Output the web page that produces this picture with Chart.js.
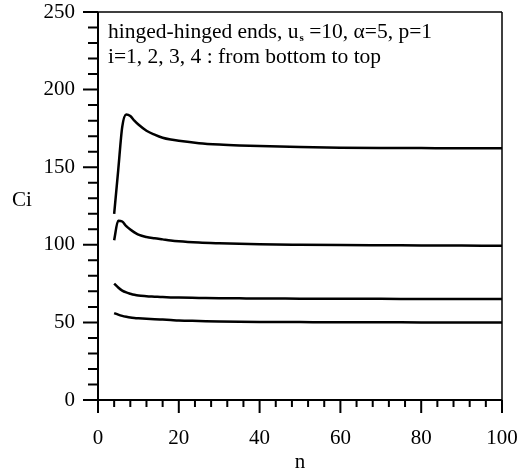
<!DOCTYPE html>
<html>
<head>
<meta charset="utf-8">
<script src="https://cdn.jsdelivr.net/npm/chart.js@4.4.0/dist/chart.umd.min.js"></script>
<style>
  html, body { margin: 0; padding: 0; background: #fff; }
  canvas { display: block; }
</style>
</head>
<body>
<canvas id="chart" width="532" height="473"></canvas>
<script>
// n values (x) and Ci for each mode
const nValues = [4, 5, 6, 7, 8, 9, 10, 12, 14, 16, 18, 20, 25, 30, 35, 40, 50, 60, 70, 80, 90, 100];
const c1 = [56, 55, 54.2, 53.6, 53.1, 52.8, 52.6, 52.3, 52.1, 51.8, 51.5, 51.2, 50.9, 50.6, 50.4, 50.3, 50.2, 50.1, 50.1, 50, 50, 50];
const c2 = [75, 72.5, 70.5, 69.3, 68.5, 67.8, 67.3, 66.9, 66.6, 66.3, 66.1, 66, 65.8, 65.6, 65.5, 65.4, 65.3, 65.2, 65.2, 65.1, 65.1, 65.1];
const c3 = [103, 115.5, 115, 112, 109.8, 108, 106.5, 105, 104.2, 103.5, 102.8, 102.3, 101.5, 101, 100.6, 100.3, 100, 99.8, 99.7, 99.6, 99.5, 99.4];
const c4 = [120, 148, 176, 184, 183, 180, 177.5, 173.5, 171, 169, 167.8, 167, 165.5, 164.6, 164, 163.6, 163, 162.6, 162.4, 162.3, 162.2, 162.2];

const xLabelStep = 20, xMinorStep = 4;
const yLabelStep = 50, yMinorStep = 10;
const noteLines = ['hinged-hinged ends, u', 'i=1, 2, 3, 4 : from bottom to top'];

const FONT = 'Liberation Serif, Times New Roman, serif';

function toPoints(ys) {
    return nValues.map((n, i) => ({ x: n, y: ys[i] }));
}

function lineSet(label, ys) {
    return {
        label: label,
        data: toPoints(ys),
        borderColor: '#000',
        borderWidth: 2.5,
        pointRadius: 0,
        fill: false,
        cubicInterpolationMode: 'monotone'
    };
}

// frame, tick marks, the note and the Ci label
const framePlugin = {
    id: 'frame',
    afterDraw(chart) {
        const ctx = chart.ctx;
        const a = chart.chartArea;
        const xs = chart.scales.x, ys = chart.scales.y;
        ctx.save();
        ctx.strokeStyle = '#000';
        ctx.lineCap = 'butt';

        // top + right border
        ctx.lineWidth = 1.5;
        ctx.beginPath();
        ctx.moveTo(a.left, a.top);
        ctx.lineTo(a.right, a.top);
        ctx.moveTo(a.right, a.top);
        ctx.lineTo(a.right, a.bottom + 13);
        ctx.stroke();

        // axes
        ctx.lineWidth = 2;
        ctx.beginPath();
        ctx.moveTo(a.left, a.top);
        ctx.lineTo(a.left, a.bottom + 13);
        ctx.moveTo(a.left - 15, a.bottom);
        ctx.lineTo(a.right, a.bottom);
        ctx.stroke();

        // y ticks
        ctx.beginPath();
        for (let v = ys.min; v <= ys.max; v += yMinorStep) {
            const py = ys.getPixelForValue(v);
            const len = v % yLabelStep === 0 ? 15 : 10;
            ctx.moveTo(a.left - len, py);
            ctx.lineTo(a.left, py);
        }
        // x ticks
        for (let v = xs.min; v <= xs.max; v += xMinorStep) {
            const px = xs.getPixelForValue(v);
            const len = v % xLabelStep === 0 ? 13 : 7;
            ctx.moveTo(px, a.bottom);
            ctx.lineTo(px, a.bottom + len);
        }
        ctx.stroke();

        // note in the top-left corner
        ctx.fillStyle = '#000';
        ctx.font = '21.5px ' + FONT;
        ctx.textBaseline = 'middle';
        ctx.textAlign = 'left';
        let x0 = a.left + 10;
        ctx.fillText(noteLines[0], x0, 32);
        let w = ctx.measureText(noteLines[0]).width;
        ctx.font = 'bold 11px ' + FONT;
        ctx.fillText('s', x0 + w + 1, 38);
        let ws = ctx.measureText('s').width + 1;
        ctx.font = '21.5px ' + FONT;
        ctx.fillText(' =10, \u03b1=5, p=1', x0 + w + ws, 32);
        ctx.fillText(noteLines[1], x0, 57);

        // y axis name, horizontal
        ctx.font = '21px ' + FONT;
        ctx.textAlign = 'center';
        ctx.fillText('Ci', 22, 200);
        ctx.restore();
    }
};

const chart = new Chart(document.getElementById('chart'), {
    type: 'line',
    data: {
        datasets: [
            lineSet('i=1', c1),
            lineSet('i=2', c2),
            lineSet('i=3', c3),
            lineSet('i=4', c4)
        ]
    },
    options: {
        responsive: false,
        devicePixelRatio: 1,
        animation: false,
        layout: {
            padding: { top: 12, right: 30, left: 0, bottom: 0 }
        },
        plugins: {
            legend: { display: false },
            tooltip: { enabled: false }
        },
        scales: {
            x: {
                type: 'linear',
                min: 0,
                max: 100,
                grid: { display: false, drawTicks: false },
                border: { display: false },
                ticks: {
                    stepSize: xLabelStep,
                    color: '#000',
                    font: { family: FONT, size: 21 },
                    padding: 26,
                    maxRotation: 0
                },
                title: {
                    display: true,
                    text: 'n',
                    color: '#000',
                    font: { family: FONT, size: 21, lineHeight: 1 },
                    padding: 0
                },
                afterFit(scale) {
                    scale.height = 73;
                    scale.paddingLeft = 0;
                    scale.paddingRight = 0;
                }
            },
            y: {
                type: 'linear',
                min: 0,
                max: 250,
                grid: { display: false, drawTicks: false },
                border: { display: false },
                ticks: {
                    stepSize: yLabelStep,
                    color: '#000',
                    font: { family: FONT, size: 21 },
                    padding: 23
                },
                afterFit(scale) {
                    scale.width = 98;
                    scale.paddingTop = 0;
                    scale.paddingBottom = 0;
                }
            }
        }
    },
    plugins: [framePlugin]
});
</script>
</body>
</html>
